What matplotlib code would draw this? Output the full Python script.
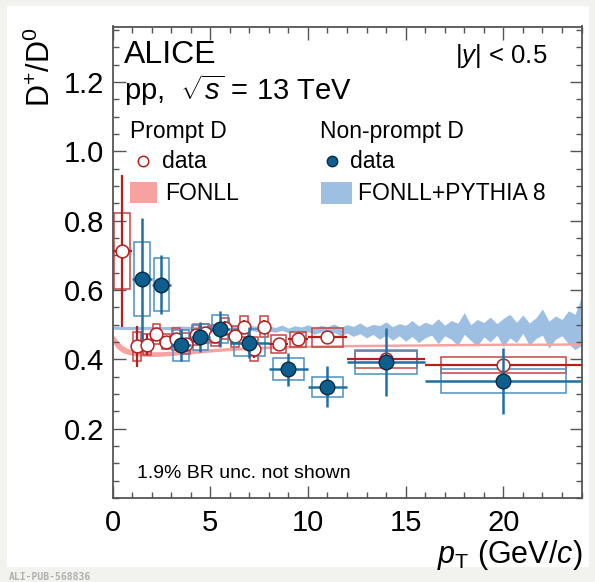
import matplotlib
matplotlib.use('Agg')
import matplotlib.pyplot as plt
from matplotlib.patches import Rectangle
from matplotlib.lines import Line2D
from matplotlib.ticker import MultipleLocator, FixedLocator

plt.rcParams['font.family'] = ['Liberation Sans', 'DejaVu Sans']
plt.rcParams['mathtext.fontset'] = 'custom'
plt.rcParams['mathtext.rm'] = 'Liberation Sans'
plt.rcParams['mathtext.it'] = 'Liberation Sans:italic'
plt.rcParams['mathtext.bf'] = 'Liberation Sans:bold'

# ---------------- data ----------------
prompt_lo = [0, 1, 1.5, 2, 2.5, 3, 3.5, 4, 4.5, 5, 5.5, 6, 6.5, 7, 7.5, 8, 9, 10, 12, 16]
prompt_hi = [1, 1.5, 2, 2.5, 3, 3.5, 4, 4.5, 5, 5.5, 6, 6.5, 7, 7.5, 8, 9, 10, 12, 16, 24]
prompt_val = [0.713, 0.437, 0.442, 0.472, 0.451, 0.458, 0.445, 0.470, 0.475, 0.468, 0.490,
              0.466, 0.494, 0.430, 0.494, 0.444, 0.458, 0.463, 0.400, 0.384]
prompt_stat = [0.220, 0.058, 0.030, 0.015, 0.012, 0.015, 0.015, 0.015, 0.015, 0.020, 0.020,
               0.020, 0.020, 0.025, 0.020, 0.012, 0.015, 0.012, 0.012, 0.015]
prompt_syst = [0.110, 0.041, 0.030, 0.029, 0.022, 0.031, 0.030, 0.028, 0.028, 0.030, 0.030,
               0.030, 0.030, 0.035, 0.030, 0.025, 0.022, 0.028, 0.024, 0.023]

np_lo = [1, 2, 3, 4, 5, 6, 8, 10, 12, 16]
np_hi = [2, 3, 4, 5, 6, 8, 10, 12, 16, 24]
np_val = [0.632, 0.615, 0.441, 0.465, 0.487, 0.448, 0.371, 0.321, 0.392, 0.337]
np_stat = [0.175, 0.085, 0.047, 0.043, 0.052, 0.044, 0.048, 0.059, 0.097, 0.096]
np_syst = [0.107, 0.077, 0.045, 0.038, 0.041, 0.039, 0.032, 0.029, 0.035, 0.035]

fonll_pt = [0.05, 0.25, 0.5, 0.75, 1, 1.5, 2, 2.5, 3, 4, 5, 6, 7, 8, 10, 12, 14, 16, 18, 20, 22, 24]
fonll_lo = [0.445, 0.430, 0.420, 0.415, 0.412, 0.409, 0.408, 0.409, 0.411, 0.416, 0.421, 0.425,
            0.428, 0.431, 0.434, 0.436, 0.437, 0.438, 0.439, 0.440, 0.440, 0.441]
fonll_hi = [0.470, 0.455, 0.440, 0.432, 0.428, 0.424, 0.422, 0.422, 0.424, 0.428, 0.431, 0.434,
            0.437, 0.439, 0.441, 0.443, 0.444, 0.445, 0.446, 0.447, 0.447, 0.448]

pyth_pt = [0, 0.5, 1, 1.5, 2, 2.5, 3, 3.5, 4, 4.5, 5, 5.5, 6, 6.5, 7, 7.5,
           8.0, 8.33, 8.67, 9.0, 9.33, 9.67, 10.0, 10.33, 10.67, 11.0, 11.33, 11.67, 12.0,
           12.33, 12.67, 13.0, 13.33, 13.67, 14.0, 14.33, 14.67, 15.0, 15.33, 15.67, 16.0,
           16.33, 16.67, 17.0, 17.33, 17.67, 18.0, 18.33, 18.67, 19.0, 19.33, 19.67, 20.0,
           20.33, 20.67, 21.0, 21.33, 21.67, 22.0, 22.33, 22.67, 23.0, 23.33, 23.67, 24.0]
pyth_hi = [0.496, 0.495, 0.495, 0.495, 0.495, 0.495, 0.495, 0.496, 0.495, 0.496, 0.497, 0.495,
           0.498, 0.494, 0.497, 0.495,
           0.496, 0.492, 0.499, 0.490, 0.497, 0.493, 0.500, 0.491, 0.498, 0.494, 0.502, 0.492,
           0.500, 0.495, 0.505, 0.493, 0.501, 0.497, 0.508, 0.494, 0.503, 0.498, 0.512, 0.496,
           0.507, 0.500, 0.517, 0.498, 0.512, 0.504, 0.535, 0.500, 0.515, 0.506, 0.522, 0.503,
           0.518, 0.530, 0.507, 0.528, 0.505, 0.520, 0.545, 0.510, 0.525, 0.515, 0.540, 0.530, 0.580]
pyth_lo = [0.487, 0.486, 0.486, 0.486, 0.486, 0.486, 0.485, 0.486, 0.484, 0.485, 0.484, 0.482,
           0.485, 0.480, 0.484, 0.479,
           0.482, 0.478, 0.484, 0.476, 0.482, 0.474, 0.480, 0.472, 0.479, 0.470, 0.478, 0.468,
           0.476, 0.466, 0.474, 0.462, 0.472, 0.458, 0.470, 0.455, 0.468, 0.452, 0.466, 0.448,
           0.462, 0.470, 0.445, 0.468, 0.458, 0.440, 0.472, 0.455, 0.438, 0.465, 0.450, 0.470,
           0.436, 0.462, 0.448, 0.475, 0.440, 0.460, 0.470, 0.432, 0.458, 0.468, 0.445, 0.428, 0.440]

x_ticks = [0, 5, 10, 15, 20]
y_ticks = [0.2, 0.4, 0.6, 0.8, 1.0, 1.2]
y_ticklabels = ['0.2', '0.4', '0.6', '0.8', '1.0', '1.2']

# ---------------- colours ----------------
RED = '#b51f1f'
RED_BOX = '#c84444'
BLUE = '#1f6fa3'
BLUE_BOX = '#4b8fc0'
BLUE_FILL = '#0e5f8e'
BLUE_EDGE = '#0a2a45'
FONLL_C = '#f7a1a1'
PYTH_C = '#9dbfe2'
AXC = '#555555'

W, H = 595, 582
fig = plt.figure(figsize=(W / 100, H / 100), dpi=100)
fig.patch.set_facecolor('#f2f2ee')
fig.add_artist(Rectangle((7 / W, 1 - 567 / H), (589 - 7) / W, (567 - 6) / H,
                         transform=fig.transFigure, facecolor='white',
                         edgecolor='none', zorder=-5))

L, R, T, B = 112.5, 581.5, 26.5, 498
ax = fig.add_axes([L / W, 1 - B / H, (R - L) / W, (B - T) / H])
ax.set_xlim(0, 24)
ax.set_ylim(0, 1.36)

# bands
ax.fill_between(pyth_pt, pyth_lo, pyth_hi, color=PYTH_C, lw=0, zorder=1)
ax.fill_between(fonll_pt, fonll_lo, fonll_hi, color=FONLL_C, lw=0, zorder=1.5)

# syst boxes
for lo, hi, v, s in zip(prompt_lo, prompt_hi, prompt_val, prompt_syst):
    w = hi - lo
    c = 0.5 * (lo + hi)
    ax.add_patch(Rectangle((c - 0.4 * w, v - s), 0.8 * w, 2 * s, fill=False,
                           ec=RED_BOX, lw=1.1, zorder=2))
for lo, hi, v, s in zip(np_lo, np_hi, np_val, np_syst):
    w = hi - lo
    c = 0.5 * (lo + hi)
    ax.add_patch(Rectangle((c - 0.4 * w, v - s), 0.8 * w, 2 * s, fill=False,
                           ec=BLUE_BOX, lw=1.1, zorder=2.2))

# prompt data
pc = [0.5 * (a + b) for a, b in zip(prompt_lo, prompt_hi)]
phw = [0.5 * (b - a) for a, b in zip(prompt_lo, prompt_hi)]
ax.errorbar(pc, prompt_val, xerr=phw, yerr=prompt_stat, fmt='none', ecolor=RED,
            elinewidth=1.6, capsize=0, zorder=3)
ax.plot(pc, prompt_val, 'o', ms=9.2, mfc='white', mec=RED, mew=1.1, zorder=3.5, ls='none')

# non-prompt data
nc = [0.5 * (a + b) for a, b in zip(np_lo, np_hi)]
nhw = [0.5 * (b - a) for a, b in zip(np_lo, np_hi)]
ax.errorbar(nc, np_val, xerr=nhw, yerr=np_stat, fmt='none', ecolor=BLUE,
            elinewidth=1.8, capsize=0, zorder=4)
ax.plot(nc, np_val, 'o', ms=10.5, mfc=BLUE_FILL, mec=BLUE_EDGE, mew=1.0, zorder=4.5, ls='none')

# axes styling
ax.xaxis.set_major_locator(FixedLocator(x_ticks))
ax.xaxis.set_minor_locator(MultipleLocator(1))
ax.yaxis.set_major_locator(FixedLocator(y_ticks))
ax.set_yticklabels(y_ticklabels)
ax.yaxis.set_minor_locator(MultipleLocator(0.05))
ax.tick_params(which='both', direction='in', top=True, right=True, color=AXC, width=1.0)
ax.tick_params(which='major', length=9, labelsize=21, pad=6)
ax.tick_params(which='minor', length=4.5)
ax.tick_params(axis='x', which='major', pad=8)
for sp in ax.spines.values():
    sp.set_color(AXC)
    sp.set_linewidth(1.3)


def f(px, py):
    return (px / W, 1 - py / H)


fig.text(*f(41, 27), r'D$^{+}$/D$^{0}$', rotation=90, ha='center', va='top', fontsize=22)
fig.text(*f(582, 563), r'$p_{\mathrm{T}}$ (GeV/$c$)', ha='right', va='baseline', fontsize=22)

fig.text(*f(124, 63), 'ALICE', ha='left', va='baseline', fontsize=23)
fig.text(*f(124, 100), r'pp,  $\sqrt{s}$ = 13 TeV', ha='left', va='baseline', fontsize=21)
fig.text(*f(547, 63), r'|$y$| < 0.5', ha='right', va='baseline', fontsize=18.5)

fig.text(*f(130, 138), 'Prompt D', ha='left', va='baseline', fontsize=16.5)
fig.text(*f(320, 138), 'Non-prompt D', ha='left', va='baseline', fontsize=16.5)

fig.add_artist(Line2D([143 / W], [1 - 161 / H], marker='o', ms=7.5, mfc='white', mec=RED,
                      mew=1.1, ls='none', transform=fig.transFigure))
fig.text(*f(162, 168), 'data', ha='left', va='baseline', fontsize=16.5)
fig.add_artist(Line2D([332 / W], [1 - 161 / H], marker='o', ms=7.5, mfc=BLUE_FILL, mec=BLUE_EDGE,
                      mew=1.0, ls='none', transform=fig.transFigure))
fig.text(*f(350, 168), 'data', ha='left', va='baseline', fontsize=16.5)

fig.add_artist(Rectangle(f(130, 203), 27 / W, 21 / H, transform=fig.transFigure,
                         facecolor=FONLL_C, edgecolor='none'))
fig.text(*f(165, 200), 'FONLL', ha='left', va='baseline', fontsize=16.5)
fig.add_artist(Rectangle(f(321, 204), 31 / W, 22 / H, transform=fig.transFigure,
                         facecolor=PYTH_C, edgecolor='none'))
fig.text(*f(358, 200), 'FONLL+PYTHIA 8', ha='left', va='baseline', fontsize=16.5)

fig.text(*f(137, 478), '1.9% BR unc. not shown', ha='left', va='baseline', fontsize=14)

fig.text(*f(9, 580), 'ALI-PUB-568836', ha='left', va='baseline', fontsize=7,
         family='DejaVu Sans Mono', weight='bold', color='#b0b0b0')

fig.savefig('out.png', dpi=100, facecolor=fig.get_facecolor())
